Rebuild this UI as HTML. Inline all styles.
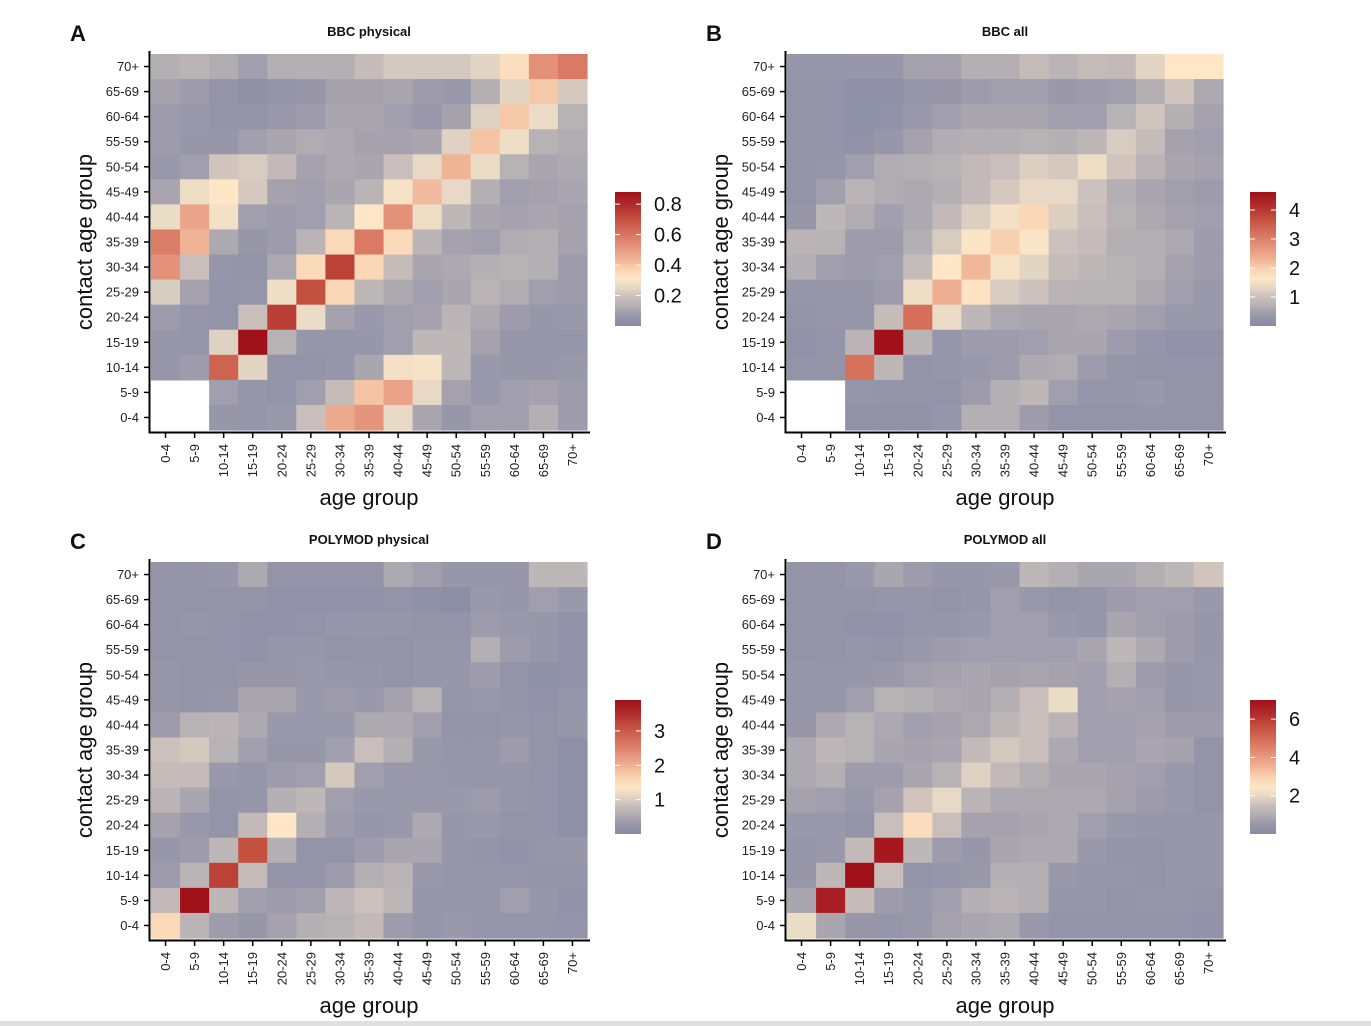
<!DOCTYPE html>
<html><head><meta charset="utf-8">
<style>
html,body{margin:0;padding:0;background:#fff;}
body{width:1371px;height:1026px;overflow:hidden;position:relative;font-family:"Liberation Sans",Arial,sans-serif;}
#strip{position:absolute;left:0;top:1021px;width:1371px;height:5px;background:#e0e0e0;}
</style></head>
<body>
<svg id="chart" width="1371" height="1021" xmlns="http://www.w3.org/2000/svg" style="position:absolute;left:0;top:0;font-family:'Liberation Sans',Arial,sans-serif;"></svg>
<div id="strip"></div>
<script>
const ageGroups = ["0-4","5-9","10-14","15-19","20-24","25-29","30-34","35-39","40-44","45-49","50-54","55-59","60-64","65-69","70+"];
const N = null;
const bbcPhysical = [
[0.15,0.17,0.14,0.10,0.15,0.15,0.15,0.20,0.24,0.24,0.24,0.28,0.38,0.60,0.67],
[0.11,0.09,0.05,0.03,0.05,0.07,0.11,0.11,0.12,0.09,0.08,0.15,0.28,0.45,0.24],
[0.09,0.08,0.05,0.05,0.08,0.09,0.12,0.12,0.10,0.08,0.11,0.27,0.45,0.30,0.16],
[0.09,0.07,0.07,0.10,0.12,0.14,0.13,0.11,0.11,0.12,0.27,0.46,0.31,0.16,0.14],
[0.08,0.10,0.23,0.25,0.19,0.11,0.13,0.12,0.21,0.29,0.50,0.30,0.16,0.12,0.13],
[0.12,0.31,0.35,0.24,0.11,0.10,0.12,0.17,0.33,0.48,0.29,0.15,0.10,0.11,0.12],
[0.30,0.54,0.32,0.10,0.09,0.10,0.17,0.35,0.60,0.31,0.18,0.12,0.11,0.12,0.11],
[0.66,0.50,0.13,0.07,0.09,0.17,0.40,0.67,0.40,0.17,0.11,0.10,0.14,0.15,0.11],
[0.60,0.21,0.06,0.05,0.13,0.40,0.84,0.41,0.20,0.12,0.13,0.15,0.16,0.15,0.09],
[0.25,0.11,0.05,0.06,0.31,0.80,0.41,0.18,0.13,0.10,0.12,0.17,0.14,0.10,0.09],
[0.09,0.06,0.05,0.21,0.85,0.30,0.11,0.08,0.10,0.11,0.17,0.13,0.09,0.07,0.08],
[0.07,0.06,0.27,1.00,0.16,0.06,0.06,0.07,0.10,0.18,0.18,0.11,0.07,0.06,0.06],
[0.07,0.09,0.74,0.28,0.05,0.05,0.06,0.12,0.32,0.33,0.18,0.08,0.07,0.07,0.08],
[N,N,0.10,0.06,0.05,0.10,0.20,0.46,0.55,0.29,0.11,0.08,0.10,0.11,0.09],
[N,N,0.07,0.06,0.08,0.21,0.53,0.59,0.29,0.12,0.07,0.10,0.10,0.15,0.09]];
const bbcAll = [
[0.06,0.06,0.07,0.07,0.11,0.11,0.15,0.15,0.20,0.17,0.20,0.19,0.28,0.35,0.35],
[0.05,0.05,0.03,0.03,0.06,0.07,0.09,0.10,0.10,0.08,0.09,0.10,0.15,0.23,0.13],
[0.05,0.05,0.03,0.04,0.08,0.10,0.12,0.12,0.12,0.10,0.10,0.16,0.23,0.15,0.11],
[0.05,0.05,0.04,0.07,0.11,0.14,0.15,0.15,0.16,0.15,0.18,0.25,0.20,0.11,0.10],
[0.05,0.06,0.10,0.14,0.15,0.16,0.19,0.21,0.26,0.24,0.31,0.23,0.17,0.12,0.11],
[0.05,0.10,0.17,0.14,0.13,0.15,0.19,0.24,0.29,0.29,0.22,0.15,0.12,0.10,0.09],
[0.07,0.18,0.14,0.10,0.13,0.19,0.26,0.32,0.41,0.26,0.21,0.16,0.13,0.11,0.10],
[0.17,0.16,0.09,0.09,0.15,0.25,0.34,0.43,0.34,0.22,0.20,0.15,0.15,0.13,0.09],
[0.15,0.10,0.09,0.10,0.20,0.35,0.49,0.33,0.28,0.20,0.18,0.16,0.15,0.11,0.09],
[0.07,0.07,0.07,0.09,0.31,0.52,0.36,0.25,0.22,0.17,0.16,0.16,0.13,0.10,0.08],
[0.05,0.06,0.06,0.20,0.70,0.30,0.18,0.13,0.12,0.12,0.13,0.12,0.10,0.08,0.08],
[0.04,0.05,0.17,1.00,0.17,0.06,0.09,0.09,0.10,0.12,0.12,0.09,0.06,0.04,0.04],
[0.05,0.05,0.69,0.18,0.05,0.06,0.08,0.09,0.13,0.14,0.09,0.06,0.05,0.05,0.05],
[N,N,0.06,0.05,0.05,0.05,0.09,0.15,0.18,0.10,0.06,0.06,0.08,0.05,0.05],
[N,N,0.04,0.04,0.04,0.06,0.15,0.15,0.09,0.05,0.05,0.05,0.05,0.05,0.05]];
const polymodPhysical = [
[0.05,0.05,0.07,0.13,0.05,0.05,0.05,0.05,0.13,0.10,0.07,0.07,0.07,0.18,0.18],
[0.05,0.05,0.05,0.05,0.04,0.04,0.04,0.04,0.05,0.03,0.02,0.08,0.07,0.10,0.08],
[0.05,0.06,0.05,0.04,0.04,0.05,0.06,0.07,0.06,0.05,0.05,0.09,0.08,0.07,0.04],
[0.05,0.05,0.05,0.04,0.07,0.07,0.05,0.05,0.05,0.06,0.06,0.15,0.09,0.07,0.04],
[0.07,0.05,0.05,0.07,0.07,0.08,0.07,0.06,0.05,0.06,0.07,0.09,0.05,0.03,0.04],
[0.07,0.05,0.07,0.12,0.12,0.08,0.09,0.08,0.11,0.16,0.06,0.08,0.05,0.04,0.06],
[0.09,0.16,0.17,0.13,0.08,0.08,0.08,0.13,0.13,0.10,0.05,0.05,0.07,0.05,0.07],
[0.22,0.24,0.16,0.10,0.07,0.07,0.10,0.21,0.15,0.08,0.06,0.06,0.09,0.05,0.03],
[0.20,0.20,0.08,0.06,0.09,0.10,0.24,0.10,0.08,0.08,0.07,0.06,0.07,0.05,0.03],
[0.17,0.12,0.05,0.06,0.15,0.18,0.10,0.08,0.08,0.08,0.08,0.09,0.06,0.05,0.03],
[0.11,0.08,0.05,0.19,0.35,0.15,0.09,0.06,0.08,0.13,0.07,0.08,0.05,0.05,0.03],
[0.07,0.09,0.18,0.80,0.15,0.05,0.05,0.09,0.12,0.12,0.07,0.05,0.04,0.06,0.07],
[0.09,0.17,0.84,0.20,0.05,0.05,0.09,0.15,0.17,0.08,0.06,0.06,0.06,0.05,0.05],
[0.19,1.00,0.18,0.10,0.09,0.10,0.18,0.22,0.18,0.07,0.06,0.06,0.10,0.07,0.04],
[0.40,0.17,0.09,0.07,0.11,0.15,0.16,0.19,0.09,0.06,0.08,0.06,0.06,0.06,0.05]];
const polymodAll = [
[0.05,0.05,0.08,0.12,0.09,0.07,0.07,0.08,0.18,0.15,0.12,0.12,0.15,0.18,0.23],
[0.05,0.05,0.05,0.06,0.06,0.05,0.06,0.10,0.08,0.05,0.06,0.09,0.10,0.10,0.08],
[0.05,0.05,0.04,0.04,0.06,0.06,0.08,0.10,0.10,0.08,0.06,0.12,0.10,0.09,0.07],
[0.05,0.05,0.06,0.05,0.08,0.09,0.10,0.10,0.10,0.10,0.12,0.18,0.13,0.09,0.07],
[0.07,0.06,0.07,0.08,0.10,0.11,0.12,0.11,0.12,0.11,0.10,0.15,0.09,0.07,0.08],
[0.06,0.06,0.10,0.16,0.15,0.13,0.12,0.15,0.21,0.30,0.10,0.11,0.10,0.07,0.08],
[0.07,0.13,0.16,0.13,0.10,0.11,0.13,0.18,0.21,0.17,0.10,0.10,0.11,0.09,0.09],
[0.13,0.18,0.16,0.12,0.11,0.12,0.19,0.24,0.21,0.13,0.10,0.10,0.12,0.11,0.05],
[0.13,0.15,0.09,0.09,0.12,0.16,0.27,0.19,0.15,0.12,0.12,0.11,0.10,0.08,0.05],
[0.11,0.10,0.08,0.11,0.23,0.29,0.17,0.13,0.13,0.13,0.13,0.11,0.09,0.08,0.05],
[0.08,0.08,0.05,0.21,0.39,0.21,0.11,0.11,0.12,0.13,0.10,0.08,0.07,0.06,0.06],
[0.06,0.08,0.19,0.97,0.18,0.09,0.07,0.12,0.13,0.13,0.08,0.05,0.05,0.07,0.07],
[0.07,0.18,1.00,0.21,0.05,0.06,0.08,0.15,0.15,0.08,0.06,0.06,0.05,0.06,0.06],
[0.12,0.95,0.20,0.09,0.08,0.10,0.15,0.17,0.15,0.06,0.06,0.05,0.07,0.06,0.05],
[0.30,0.12,0.07,0.06,0.08,0.11,0.12,0.13,0.08,0.05,0.05,0.05,0.05,0.05,0.04]];
const scaleMaxA = 0.88, scaleMaxB = 4.62, scaleMaxC = 3.9, scaleMaxD = 7.0;
const ticksA = [0.2,0.4,0.6,0.8];
const ticksB = [1,2,3,4];
const ticksC = [1,2,3];
const ticksD = [2,4,6];

const stops=[[0,"#878ba2"],[0.08,"#9a99ab"],[0.15,"#b4afb3"],[0.22,"#ccc1bc"],[0.3,"#ebdcc6"],[0.35,"#fee6c6"],[0.42,"#f8d4b4"],[0.5,"#f0b395"],[0.6,"#e4917a"],[0.7,"#d56f5a"],[0.8,"#c45040"],[0.9,"#b02c2c"],[1,"#a01018"]];
function hex(h){return [parseInt(h.substr(1,2),16),parseInt(h.substr(3,2),16),parseInt(h.substr(5,2),16)];}
function colorOf(f){f=Math.max(0,Math.min(1,f));for(let i=1;i<stops.length;i++){if(f<=stops[i][0]){const a=stops[i-1],b=stops[i];const t=(f-a[0])/(b[0]-a[0]);const c1=hex(a[1]),c2=hex(b[1]);return "rgb("+c1.map((v,k)=>Math.round(v+(c2[k]-v)*t)).join(",")+")";}}return stops[stops.length-1][1];}

const svg=document.getElementById('chart');
const NS="http://www.w3.org/2000/svg";
function mk(tag,attrs,parent){const e=document.createElementNS(NS,tag);for(const k in attrs)e.setAttribute(k,attrs[k]);(parent||svg).appendChild(e);return e;}

const defs=mk('defs',{});
const lg=mk('linearGradient',{id:'cbar',x1:0,y1:1,x2:0,y2:0},defs);
stops.forEach(s=>mk('stop',{offset:s[0],'stop-color':s[1]},lg));

function panel(letter,title,data,plotX,plotY,scaleMax,ticks,cbX,cbY){
  const g=mk('g',{});
  
  
  const W=436,H=376,n=ageGroups.length;
  const cw=W/n,ch=H/n;
  const xScale=i=>plotX+i*cw;
  const yScale=r=>plotY+r*ch;
  data.forEach((row,r)=>row.forEach((v,c)=>{
    if(v===null)return;
    const rc=mk('rect',{x:xScale(c).toFixed(2),y:yScale(r).toFixed(2),width:(cw+0.6).toFixed(2),height:(ch+0.6).toFixed(2),fill:colorOf(v)},g);
    
    
  }));
  const ax=mk('path',{d:`M${plotX-1.5},${plotY-3}V${plotY+H+2.5}H${plotX+W+3}`,stroke:'#000','stroke-width':2,fill:'none'},g);
  
  
  for(let r=0;r<n;r++){
    const y=yScale(r)+ch/2;
    mk('line',{x1:plotX-7,x2:plotX-1.5,y1:y,y2:y,stroke:'#000','stroke-width':1.5},g);
    const t=mk('text',{x:plotX-12,y:y+4.5,'text-anchor':'end','font-size':13,fill:'#222'},g);
    t.textContent=ageGroups[n-1-r];
    
    
  }
  for(let c=0;c<n;c++){
    const x=xScale(c)+cw/2;
    mk('line',{x1:x,x2:x,y1:plotY+H+2.5,y2:plotY+H+8,stroke:'#000','stroke-width':1.5},g);
    const t=mk('text',{x:0,y:0,'text-anchor':'end','font-size':13,fill:'#222',transform:`translate(${x+4.5},${plotY+H+14}) rotate(-90)`},g);
    t.textContent=ageGroups[c];
    
    
  }
  const xt=mk('text',{x:plotX+W/2,y:plotY+H+75,'text-anchor':'middle','font-size':22,fill:'#111'},g);
  xt.textContent='age group';
  
  
  const yt=mk('text',{x:0,y:0,'text-anchor':'middle','font-size':22,fill:'#111',transform:`translate(${plotX-59},${plotY+H/2}) rotate(-90)`},g);
  yt.textContent='contact age group';
  
  
  const tt=mk('text',{x:plotX+W/2,y:plotY-18,'text-anchor':'middle','font-size':13,'font-weight':'bold',fill:'#111'},g);
  tt.textContent=title;
  
  
  const lt=mk('text',{x:plotX-81,y:plotY-13,'font-size':22,'font-weight':'bold',fill:'#111'},g);
  lt.textContent=letter;
  
  
  const cbH=134,cbW=26;
  const cb=mk('rect',{x:cbX,y:cbY,width:cbW,height:cbH,fill:'url(#cbar)'},g);
  
  
  ticks.forEach(tv=>{
    const y=cbY+cbH-tv/scaleMax*cbH;
    mk('line',{x1:cbX,x2:cbX+5,y1:y,y2:y,stroke:'#fff','stroke-width':1},g);
    mk('line',{x1:cbX+cbW-5,x2:cbX+cbW,y1:y,y2:y,stroke:'#fff','stroke-width':1},g);
    const t=mk('text',{x:cbX+39,y:y+7,'font-size':20,fill:'#111'},g);
    t.textContent=String(tv);
    
    
  });
}
panel('A','BBC physical',bbcPhysical,151,54,scaleMaxA,ticksA,615,192);
panel('B','BBC all',bbcAll,787,54,scaleMaxB,ticksB,1250,192);
panel('C','POLYMOD physical',polymodPhysical,151,562,scaleMaxC,ticksC,615,700);
panel('D','POLYMOD all',polymodAll,787,562,scaleMaxD,ticksD,1250,700);
</script>
</body></html>
